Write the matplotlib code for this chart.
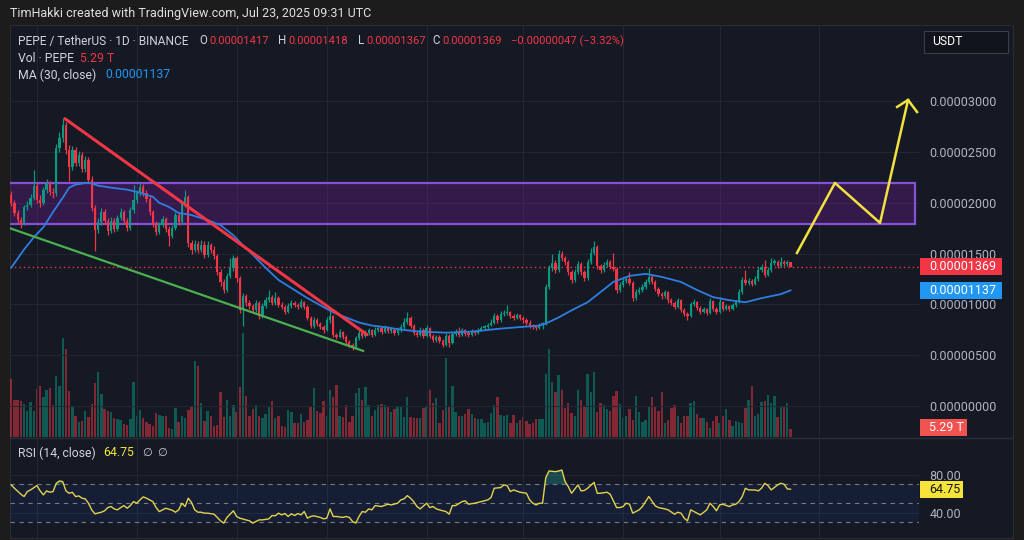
import numpy as np
import matplotlib.pyplot as plt
from matplotlib.patches import Rectangle

plt.rcParams['font.family'] = ['Roboto', 'DejaVu Sans']

W, H = 1024, 540
BG = '#151924'
GRID = '#232733'
UP = '#089981'
DOWN = '#f23645'
TXT = '#d1d4dc'
AXT = '#b2b5be'

SCALE = 1e-5  # prices below are in units of 0.00001 USDT

# daily candles, 23 Nov 2024 .. 23 Jul 2025 (index 0 .. 242)
first_open = 2.08
closes = [
    2.00, 1.90, 1.83, 1.80, 1.96, 1.98, 2.05, 2.17, 2.03, 2.00,
    2.13, 2.19, 2.11, 2.10, 2.54, 2.64, 2.77, 2.52, 2.35, 2.52,
    2.39, 2.47, 2.33, 2.42, 2.23, 1.95, 1.73, 1.81, 1.91, 1.82,
    1.72, 1.82, 1.74, 1.85, 1.91, 1.82, 1.75, 1.93, 2.03, 2.10,
    2.16, 2.10, 2.04, 1.91, 1.79, 1.71, 1.78, 1.84, 1.74, 1.67,
    1.75, 1.88, 1.81, 1.99, 2.06, 1.60, 1.54, 1.59, 1.54, 1.58,
    1.49, 1.58, 1.54, 1.48, 1.32, 1.22, 1.14, 1.28, 1.36, 1.46,
    1.26, 0.94, 1.08, 1.01, 0.98, 0.94, 1.01, 0.88, 0.98, 1.04,
    1.07, 1.01, 1.06, 0.99, 0.97, 0.92, 0.98, 1.01, 0.99, 0.97,
    1.02, 0.97, 0.86, 0.79, 0.84, 0.81, 0.78, 0.75, 0.84, 0.88,
    0.70, 0.68, 0.73, 0.68, 0.63, 0.60, 0.57, 0.67, 0.72, 0.69,
    0.72, 0.75, 0.70, 0.75, 0.77, 0.73, 0.77, 0.74, 0.75, 0.72,
    0.75, 0.78, 0.83, 0.86, 0.79, 0.72, 0.70, 0.75, 0.69, 0.77,
    0.69, 0.65, 0.68, 0.64, 0.60, 0.69, 0.62, 0.71, 0.73, 0.70,
    0.75, 0.71, 0.70, 0.74, 0.72, 0.75, 0.77, 0.78, 0.80, 0.82,
    0.88, 0.84, 0.90, 0.91, 0.92, 0.88, 0.86, 0.89, 0.86, 0.84,
    0.82, 0.79, 0.78, 0.77, 0.80, 0.81, 1.17, 1.36, 1.41, 1.34,
    1.50, 1.46, 1.42, 1.32, 1.24, 1.32, 1.40, 1.32, 1.26, 1.42,
    1.51, 1.56, 1.38, 1.34, 1.39, 1.42, 1.37, 1.35, 1.14, 1.19,
    1.23, 1.25, 1.21, 1.06, 1.12, 1.14, 1.17, 1.22, 1.27, 1.22,
    1.15, 1.10, 1.08, 1.12, 1.04, 1.01, 0.97, 1.04, 0.94, 0.90,
    0.88, 1.00, 1.02, 0.96, 0.92, 0.95, 0.91, 1.03, 0.95, 0.92,
    1.02, 0.95, 0.98, 0.95, 0.99, 1.02, 1.12, 1.24, 1.21, 1.23,
    1.20, 1.25, 1.34, 1.37, 1.29, 1.34, 1.41, 1.42, 1.38, 1.42,
    1.40, 1.417, 1.369]
highs = [
    2.12, 2.03, 1.93, 1.86, 1.98, 2.02, 2.09, 2.32, 2.20, 2.08,
    2.16, 2.24, 2.22, 2.15, 2.58, 2.70, 2.84, 2.80, 2.57, 2.56,
    2.55, 2.51, 2.50, 2.46, 2.45, 2.26, 1.98, 1.85, 1.95, 1.94,
    1.85, 1.86, 1.85, 1.88, 1.95, 1.93, 1.85, 1.96, 2.18, 2.13,
    2.20, 2.19, 2.13, 2.07, 1.93, 1.82, 1.81, 1.87, 1.86, 1.77,
    1.78, 1.91, 1.90, 2.02, 2.13, 2.08, 1.63, 1.63, 1.62, 1.63,
    1.62, 1.62, 1.60, 1.57, 1.50, 1.35, 1.25, 1.31, 1.46, 1.49,
    1.48, 1.28, 1.11, 1.10, 1.04, 1.00, 1.04, 1.03, 1.01, 1.07,
    1.14, 1.09, 1.12, 1.08, 1.02, 0.99, 1.01, 1.04, 1.03, 1.01,
    1.05, 1.03, 0.99, 0.88, 0.87, 0.86, 0.83, 0.80, 0.87, 0.94,
    0.89, 0.72, 0.76, 0.74, 0.70, 0.65, 0.62, 0.69, 0.75, 0.74,
    0.75, 0.77, 0.76, 0.78, 0.80, 0.79, 0.80, 0.79, 0.78, 0.77,
    0.78, 0.81, 0.86, 0.92, 0.88, 0.81, 0.74, 0.78, 0.77, 0.80,
    0.78, 0.71, 0.70, 0.70, 0.66, 0.72, 0.71, 0.73, 0.76, 0.78,
    0.77, 0.76, 0.73, 0.76, 0.75, 0.77, 0.79, 0.80, 0.82, 0.85,
    0.91, 0.90, 0.93, 0.94, 0.99, 0.93, 0.90, 0.91, 0.90, 0.88,
    0.86, 0.84, 0.81, 0.80, 0.82, 0.83, 1.20, 1.39, 1.50, 1.44,
    1.54, 1.53, 1.48, 1.44, 1.34, 1.35, 1.43, 1.42, 1.34, 1.45,
    1.55, 1.62, 1.58, 1.40, 1.42, 1.45, 1.44, 1.51, 1.37, 1.22,
    1.26, 1.28, 1.32, 1.23, 1.15, 1.17, 1.20, 1.25, 1.36, 1.29,
    1.24, 1.17, 1.12, 1.14, 1.13, 1.06, 1.03, 1.06, 1.05, 0.96,
    0.92, 1.02, 1.05, 1.03, 0.98, 0.97, 0.96, 1.06, 1.04, 0.97,
    1.07, 1.03, 1.00, 0.99, 1.01, 1.04, 1.15, 1.27, 1.34, 1.26,
    1.25, 1.28, 1.37, 1.40, 1.44, 1.37, 1.46, 1.45, 1.44, 1.47,
    1.44, 1.44, 1.418]
lows = [
    1.97, 1.87, 1.79, 1.75, 1.78, 1.93, 1.96, 2.03, 2.00, 1.96,
    1.98, 2.10, 2.08, 2.05, 2.07, 2.50, 2.60, 2.48, 2.22, 2.32,
    2.36, 2.36, 2.30, 2.30, 2.20, 1.92, 1.53, 1.70, 1.78, 1.79,
    1.68, 1.70, 1.71, 1.72, 1.83, 1.79, 1.72, 1.73, 1.90, 2.00,
    2.07, 2.07, 2.01, 1.88, 1.76, 1.68, 1.69, 1.76, 1.71, 1.57,
    1.65, 1.73, 1.78, 1.79, 1.96, 1.56, 1.50, 1.52, 1.51, 1.52,
    1.46, 1.47, 1.51, 1.45, 1.29, 1.18, 1.11, 1.12, 1.26, 1.33,
    1.22, 0.91, 0.79, 0.98, 0.95, 0.91, 0.92, 0.85, 0.86, 0.96,
    1.02, 0.99, 0.99, 0.97, 0.95, 0.90, 0.91, 0.96, 0.97, 0.95,
    0.96, 0.95, 0.84, 0.77, 0.77, 0.79, 0.76, 0.72, 0.74, 0.82,
    0.68, 0.66, 0.67, 0.66, 0.61, 0.58, 0.55, 0.56, 0.65, 0.67,
    0.68, 0.70, 0.68, 0.69, 0.73, 0.71, 0.72, 0.72, 0.72, 0.70,
    0.70, 0.73, 0.76, 0.81, 0.77, 0.70, 0.68, 0.69, 0.67, 0.68,
    0.67, 0.63, 0.63, 0.62, 0.58, 0.59, 0.58, 0.61, 0.69, 0.68,
    0.69, 0.69, 0.68, 0.69, 0.70, 0.71, 0.74, 0.75, 0.76, 0.79,
    0.81, 0.82, 0.83, 0.88, 0.89, 0.86, 0.84, 0.85, 0.84, 0.82,
    0.80, 0.77, 0.76, 0.75, 0.76, 0.76, 0.80, 1.15, 1.33, 1.31,
    1.32, 1.43, 1.39, 1.29, 1.21, 1.22, 1.30, 1.29, 1.23, 1.24,
    1.40, 1.49, 1.35, 1.31, 1.32, 1.37, 1.35, 1.33, 1.11, 1.12,
    1.17, 1.21, 1.19, 1.03, 1.04, 1.10, 1.12, 1.15, 1.20, 1.20,
    1.13, 1.08, 1.05, 1.06, 1.01, 0.99, 0.95, 0.96, 0.92, 0.88,
    0.84, 0.87, 0.98, 0.94, 0.90, 0.91, 0.89, 0.90, 0.93, 0.90,
    0.91, 0.93, 0.94, 0.93, 0.94, 0.97, 1.01, 1.10, 1.19, 1.19,
    1.18, 1.19, 1.23, 1.32, 1.27, 1.28, 1.32, 1.39, 1.36, 1.37,
    1.38, 1.38, 1.367]
# daily volume, trillions of PEPE
volumes = [
    38.3, 24.4, 24.4, 23.8, 21.8, 17.2, 23.1, 17.2, 31.7, 33.7,
    26.4, 31.0, 32.3, 21.1, 40.3, 33.7, 65.3, 58.1, 30.4, 20.5,
    13.9, 9.9, 10.6, 17.2, 13.2, 21.8, 35.6, 42.9, 28.4, 18.5,
    17.2, 16.5, 12.5, 11.9, 11.2, 8.6, 7.9, 11.9, 36.3, 13.9,
    17.8, 12.5, 9.9, 8.6, 7.3, 15.8, 14.5, 13.9, 13.9, 5.9,
    5.3, 19.1, 9.9, 13.9, 12.5, 17.8, 20.5, 50.2, 46.9, 22.4,
    10.6, 17.2, 13.9, 7.3, 7.9, 29.7, 13.2, 24.4, 13.9, 21.1,
    16.5, 33.0, 68.6, 27.1, 13.9, 18.5, 21.1, 13.9, 12.5, 15.2,
    20.5, 23.8, 12.5, 13.9, 7.3, 6.6, 17.8, 16.5, 9.2, 9.2,
    15.2, 9.9, 11.2, 20.5, 32.3, 17.2, 15.8, 23.8, 13.9, 31.0,
    26.4, 34.3, 13.9, 13.2, 21.1, 9.9, 13.9, 29.0, 32.3, 24.4,
    33.0, 21.1, 13.9, 17.8, 21.1, 21.8, 21.1, 20.5, 16.5, 18.5,
    19.8, 20.5, 13.2, 26.4, 13.2, 12.5, 12.5, 12.5, 19.1, 20.5,
    31.0, 22.4, 25.7, 9.2, 17.8, 52.1, 19.8, 33.7, 16.5, 13.9,
    13.9, 15.2, 18.5, 15.2, 12.5, 11.9, 11.9, 9.2, 9.9, 15.8,
    21.1, 26.4, 14.5, 13.9, 14.5, 9.2, 14.5, 9.2, 11.2, 13.2,
    10.6, 8.6, 9.2, 11.9, 11.9, 11.9, 41.6, 58.1, 36.3, 29.7,
    40.9, 31.0, 19.1, 22.4, 15.8, 13.9, 31.0, 24.4, 20.5, 41.6,
    29.7, 42.9, 16.5, 22.4, 21.1, 18.5, 17.2, 27.1, 30.4, 21.8,
    12.5, 13.9, 18.5, 11.2, 27.1, 16.5, 9.9, 11.2, 19.8, 26.4,
    19.8, 17.2, 29.7, 9.2, 11.2, 19.1, 21.1, 13.9, 9.2, 13.9,
    13.9, 22.4, 23.8, 15.2, 12.5, 12.5, 9.9, 5.9, 10.6, 13.9,
    9.2, 13.9, 18.5, 11.2, 7.3, 10.6, 9.9, 9.2, 19.1, 24.4,
    33.7, 13.9, 15.2, 23.1, 23.8, 27.7, 22.4, 27.1, 13.2, 19.8,
    20.5, 22.4, 5.29]

# MA(30, close): (day index, value)
ma_points = [
    (0, 1.36), (4, 1.54), (7, 1.66), (10, 1.76), (13, 1.91), (16, 2.05),
    (18, 2.15), (20, 2.18), (24, 2.20), (27, 2.17), (31, 2.15), (36, 2.13),
    (40, 2.10), (44, 2.06), (46, 2.00), (49, 1.96), (52, 1.90), (56, 1.88),
    (61, 1.83), (65, 1.78), (69, 1.68), (72, 1.58), (75, 1.49), (79, 1.36),
    (83, 1.24), (88, 1.14), (92, 1.06), (96, 0.99), (100, 0.92), (104, 0.87),
    (108, 0.82), (112, 0.79), (117, 0.77), (121, 0.75), (127, 0.73), (135, 0.72),
    (143, 0.73), (152, 0.76), (160, 0.78), (164, 0.79), (166, 0.81), (170, 0.87),
    (174, 0.94), (179, 1.02), (183, 1.12), (187, 1.22), (192, 1.28), (197, 1.30),
    (202, 1.27), (208, 1.22), (213, 1.14), (218, 1.07), (223, 1.04), (228, 1.02),
    (233, 1.06), (239, 1.10), (242, 1.137)]

# RSI(14, close): (day index, value)
rsi_points = [
    (0, 69.3), (1, 65.8), (3, 59.5), (4, 57.0), (5, 62.3), (6, 64.0), (8, 68.6), (9, 63.0),
    (10, 58.8), (11, 63.0), (12, 61.6), (13, 62.3), (14, 71.0), (15, 73.5), (16, 72.8),
    (17, 63.0), (18, 60.5), (19, 61.5), (20, 57.0), (21, 57.7), (22, 55.3), (23, 54.6),
    (24, 50.0), (25, 43.0), (26, 38.8), (28, 40.5), (29, 42.0), (30, 45.4), (31, 46.5),
    (32, 44.0), (33, 43.0), (34, 45.4), (35, 47.5), (36, 44.7), (37, 47.5), (38, 51.7),
    (39, 50.0), (40, 53.5), (41, 56.7), (42, 55.3), (43, 53.5), (44, 51.7), (45, 45.4),
    (46, 41.2), (47, 43.0), (48, 44.7), (50, 42.6), (51, 40.5), (52, 43.0), (53, 50.0),
    (54, 46.5), (55, 55.3), (56, 50.7), (57, 43.0), (58, 40.5), (59, 40.5), (60, 39.5),
    (61, 39.5), (63, 38.4), (64, 35.0), (65, 31.4), (66, 29.0), (67, 35.0), (69, 42.0),
    (70, 36.0), (71, 34.2), (73, 32.4), (74, 31.4), (75, 29.0), (77, 32.4), (78, 32.4),
    (80, 33.5), (81, 37.0), (82, 36.7), (83, 39.5), (84, 37.7), (85, 39.1), (86, 36.0),
    (87, 38.8), (88, 37.0), (89, 39.1), (90, 37.7), (91, 41.2), (92, 34.2), (93, 36.0),
    (94, 36.7), (96, 35.0), (97, 33.5), (98, 34.2), (99, 44.0), (100, 36.0), (101, 36.0),
    (103, 35.0), (104, 36.0), (105, 35.0), (106, 30.7), (107, 29.0), (108, 36.0),
    (109, 41.2), (110, 40.5), (111, 44.0), (112, 43.0), (113, 47.5), (115, 46.5),
    (117, 49.0), (118, 48.2), (120, 50.0), (121, 53.5), (122, 54.6), (123, 58.0),
    (124, 55.3), (125, 51.7), (126, 46.5), (127, 44.0), (129, 50.0), (130, 45.4),
    (131, 46.5), (132, 44.0), (134, 42.0), (135, 41.2), (136, 38.4), (137, 47.5),
    (138, 47.5), (140, 51.7), (141, 52.5), (142, 49.0), (144, 50.0), (146, 51.7),
    (148, 53.5), (149, 56.0), (150, 65.8), (152, 66.5), (153, 69.3), (154, 68.6),
    (155, 62.3), (156, 64.0), (158, 61.6), (160, 60.5), (161, 53.5), (162, 50.0),
    (163, 48.2), (164, 50.0), (165, 50.0), (166, 77.0), (167, 84.0), (169, 83.3),
    (170, 84.0), (171, 85.0), (172, 72.8), (173, 67.5), (174, 60.5), (176, 69.3),
    (177, 63.0), (178, 63.5), (179, 65.8), (181, 72.0), (182, 60.5), (183, 60.5),
    (185, 61.6), (186, 59.5), (188, 45.4), (189, 45.4), (190, 46.5), (191, 50.0),
    (192, 49.0), (193, 39.5), (195, 43.0), (196, 46.5), (197, 51.7), (198, 57.0),
    (200, 47.2), (201, 45.4), (203, 44.0), (204, 43.0), (206, 38.4), (207, 40.5),
    (208, 39.5), (209, 34.2), (210, 31.4), (211, 43.0), (213, 39.5), (214, 37.7),
    (216, 43.0), (217, 50.0), (218, 46.5), (219, 42.0), (220, 48.2), (221, 48.9),
    (223, 46.5), (224, 48.2), (225, 48.9), (226, 51.7), (227, 57.0), (228, 65.8),
    (229, 64.0), (231, 64.0), (232, 63.0), (233, 65.8), (234, 71.0), (235, 68.6),
    (236, 64.0), (238, 69.3), (239, 71.0), (240, 70.0), (241, 65.1), (242, 64.75)]

month_starts = [8, 39, 70, 98, 129, 159, 190, 220, 251]   # Dec 1 .. Aug 1
price_ticks = [0.0, 0.5, 1.0, 1.5, 2.0, 2.5, 3.0]
rsi_ticks = [80, 40]

# drawings on the chart
zone_bottom, zone_top, zone_end = 1.789, 2.196, 280.7
red_trend = ([16.7, 110.5], [2.83, 0.70])
green_trend = ([-0.4, 109.3], [1.75, 0.54])
yellow_path = ([244.0, 255.8, 269.8, 278.5], [1.506, 2.196, 1.802, 3.015])
arrow_head = ([275.1, 278.5, 281.3], [2.946, 3.015, 2.896])

closes = np.array(closes)
opens = np.concatenate([[first_open], closes[:-1]])
highs = np.array(highs)
lows = np.array(lows)
idx = np.arange(len(closes))
up = closes >= opens
cols = np.where(up, UP, DOWN)

fig = plt.figure(figsize=(W / 100, H / 100), dpi=100, facecolor='#1c1c1c')


def fx(px):
    return px / W


def fy(py):
    return 1 - py / H


fig.patches.append(Rectangle((fx(10), fy(538)), 1003 / W, 513 / H, transform=fig.transFigure,
                             fc=BG, ec='#2c2c2c', lw=0.8, zorder=-1))

rect = [fx(10), fy(437), 909 / W, 412 / H]
axv = fig.add_axes(rect)
ax = fig.add_axes(rect, sharex=axv)
axr = fig.add_axes([fx(10), fy(538), 909 / W, 100 / H], sharex=axv)
axv.set_zorder(1)
ax.set_zorder(2)
for a in (axv, ax, axr):
    a.set_facecolor('none')
    for s in a.spines.values():
        s.set_visible(False)
    a.tick_params(axis='x', bottom=False, labelbottom=False)

x_lo, x_hi = -0.37, 281.9
ax.set_xlim(x_lo, x_hi)
ax.set_ylim(-0.309, 3.754)
axv.set_ylim(0, 272)
axv.set_yticks([])
axr.set_ylim(13.3, 118.8)

# grid
for m in month_starts:
    ax.axvline(m, color=GRID, lw=0.8, zorder=0)
    axr.axvline(m, color=GRID, lw=0.8, zorder=0)
for t in price_ticks:
    ax.axhline(t, color=GRID, lw=0.8, zorder=0)
for t in rsi_ticks:
    axr.axhline(t, color=GRID, lw=0.8, zorder=0)

# volume
axv.bar(idx, volumes, width=0.74, color=cols, alpha=0.5, linewidth=0)

# zone
ax.add_patch(Rectangle((-5, zone_bottom), zone_end + 5, zone_top - zone_bottom,
                       fc='#7b1fa2', alpha=0.3, ec='none', zorder=1))
ax.add_patch(Rectangle((-5, zone_bottom), zone_end + 5, zone_top - zone_bottom,
                       fc='none', ec='#8552d6', lw=1.6, zorder=1.1))

# candles
body_lo = np.minimum(opens, closes)
body_h = np.maximum(np.abs(closes - opens), 0.012)
ax.vlines(idx, lows, highs, colors=cols, linewidth=0.9, zorder=3)
ax.bar(idx, body_h, bottom=body_lo, width=0.7, color=cols, linewidth=0, zorder=3)

# MA
ma_x, ma_y = zip(*ma_points)
ax.plot(ma_x, ma_y, color='#2f7de1', lw=1.3, zorder=4, solid_joinstyle='round')

# trend lines and drawing
ax.plot(*red_trend, color=DOWN, lw=2.2, zorder=5, solid_capstyle='round')
ax.plot(*green_trend, color='#4caf50', lw=1.6, zorder=5)
ax.plot(*yellow_path, color='#f2e13f', lw=1.8, zorder=5, clip_on=False)
ax.plot(*arrow_head, color='#f2e13f', lw=1.8, zorder=5, clip_on=False)

# last price line
ax.axhline(closes[-1], color=DOWN, lw=1.0, ls=(0, (1, 2.2)), zorder=2)

# price scale
ax.yaxis.tick_right()
ax.set_yticks(price_ticks)
ax.set_yticklabels([f"{t * SCALE:.8f}" for t in price_ticks])
ax.tick_params(axis='y', length=0, pad=7.5, labelsize=9, labelcolor=AXT)

# RSI
rsi_x, rsi_y = [np.array(v) for v in zip(*rsi_points)]
axr.axhspan(30, 70, color='#2962ff', alpha=0.08, lw=0, zorder=0.5)
for lvl in (70, 50, 30):
    axr.axhline(lvl, color='#787b86', lw=0.8, ls=(0, (4, 4)), zorder=1)
axr.fill_between(rsi_x, 70, rsi_y, where=rsi_y > 70, interpolate=True,
                 color='#26a69a', alpha=0.35, lw=0, zorder=1.5)
axr.plot(rsi_x, rsi_y, color='#e3d34c', lw=1.0, zorder=2)
axr.yaxis.tick_right()
axr.set_yticks(rsi_ticks)
axr.set_yticklabels([f"{t:.2f}" for t in rsi_ticks])
axr.tick_params(axis='y', length=0, pad=7.5, labelsize=9, labelcolor=AXT)

# pane separator
fig.add_artist(plt.Line2D([fx(10), fx(1013)], [fy(437.5), fy(437.5)],
                          transform=fig.transFigure, color='#2a2e39', lw=1))


def tag(axis, val, text, fc, tc, width):
    yc = axis.transData.transform((0, val))[1]
    fig.patches.append(Rectangle((fx(920), (yc - 8.5) / H), width / W, 17 / H,
                                 transform=fig.transFigure, fc=fc, ec='none', zorder=5))
    fig.text(fx(929), yc / H, text, color=tc, fontsize=9, va='center', ha='left', zorder=6)


tag(ax, closes[-1], f"{closes[-1] * SCALE:.8f}", DOWN, 'white', 82)
tag(ax, ma_y[-1], f"{ma_y[-1] * SCALE:.8f}", '#2196f3', 'white', 82)
tag(axv, volumes[-1] + 1, f"{volumes[-1]:.2f} T", '#f05350', 'white', 47)
tag(axr, rsi_y[-1], f"{rsi_y[-1]:.2f}", '#f5e33a', '#131722', 43)

# USDT button
fig.patches.append(Rectangle((fx(924), fy(53)), 84 / W, 22 / H, transform=fig.transFigure,
                             fc='#11141c', ec='#3a3e4a', lw=0.8, zorder=5))
fig.text(fx(932), fy(42), "USDT", color='white', fontsize=8.8, va='center', ha='left', zorder=6)

# header texts
FS = 8.8
fig.text(fx(10), fy(14), "TimHakki created with TradingView.com, Jul 23, 2025 09:31 UTC",
         color='#e0e0e0', fontsize=9, va='center', ha='left')
row1 = [(18, "PEPE / TetherUS · 1D · BINANCE", TXT, 8.6), (199, "O", TXT, 8.3),
        (209, "0.00001417", DOWN, 8.1), (278, "H", TXT, 8.3), (288, "0.00001418", DOWN, 8.1),
        (358, "L", TXT, 8.3), (366, "0.00001367", DOWN, 8.1), (432, "C", TXT, 8.3),
        (442, "0.00001369", DOWN, 8.1), (511, "\u22120.00000047 (\u22123.32%)", DOWN, 8.1)]
for x, s, c, fs in row1:
    fig.text(fx(x), fy(41), s, color=c, fontsize=fs, va='center', ha='left')
fig.text(fx(18), fy(58), "Vol · PEPE", color=TXT, fontsize=FS, va='center', ha='left')
fig.text(fx(80), fy(58), f"{volumes[-1]:.2f} T", color=DOWN, fontsize=FS, va='center', ha='left')
fig.text(fx(18), fy(75), "MA (30, close)", color=TXT, fontsize=FS, va='center', ha='left')
fig.text(fx(105), fy(75), f"{ma_y[-1] * SCALE:.8f}", color='#2196f3', fontsize=FS, va='center', ha='left')
fig.text(fx(18), fy(453), "RSI (14, close)", color=TXT, fontsize=FS, va='center', ha='left')
fig.text(fx(103), fy(453), f"{rsi_y[-1]:.2f}", color='#f5e33a', fontsize=FS, va='center', ha='left')
fig.text(fx(142), fy(453), "\u2205", color=TXT, fontsize=8, va='center', ha='left', family='DejaVu Sans')
fig.text(fx(157), fy(453), "\u2205", color=TXT, fontsize=8, va='center', ha='left', family='DejaVu Sans')

fig.savefig('out.png', dpi=100, facecolor=fig.get_facecolor())
